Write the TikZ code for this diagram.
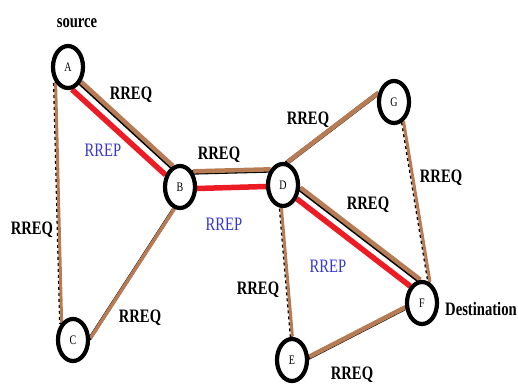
\documentclass[tikz,border=0pt]{standalone}
\usepackage{fontspec}
\setmainfont{Liberation Serif}
\newfontfamily\narrow[FakeStretch=0.77]{Liberation Serif}
\usetikzlibrary{shapes.geometric, backgrounds}

\definecolor{wire}{RGB}{184,124,84}
\definecolor{reply}{RGB}{237,28,36}
\definecolor{replytext}{RGB}{55,55,205}

\tikzset{
	host/.style={ellipse, draw=black, line width=4.2pt, fill=white, minimum width=30pt, minimum height=42pt, inner sep=0pt, font=\narrow\fontsize{13}{13}\selectfont},
	req/.style={font=\narrow\bfseries\fontsize{19}{19}\selectfont},
	rep/.style={text=replytext, font=\narrow\fontsize{19}{19}\selectfont},
	replink/.style={reply, line width=5.5pt}
}

\begin{document}
\begin{tikzpicture}[x=1pt, y=-1pt]
				\useasboundingbox (0,0) rectangle (518,385);
				
				\node[host] (A) at (68,67) {A};
				\node[host] (B) at (180,187) {B};
				\node[host] (C) at (73,340) {C};
				\node[host] (D) at (283,185) {D};
				\node[host] (G) at (394,102) {G};
				\node[host] (F) at (422,303) {F};
				\node[host] (E) at (292,360) {E};
				
				\begin{scope}[on background layer]
					% RREQ links
					\foreach \s/\t/\w/\d in {A.-50/B.110/5.5/solid, B.50/D.130/5.5/solid, D.80/G.150/5.5/solid, D.-10/F.95/5.5/solid, E.10/F.195/5.5/solid, C.5/B.-105/4.5/solid, A.-130/C.125/4/dashed, D.-95/E.90/4/dashed, G.-65/F.70/4/dashed}{
						\draw[black, line width=\w pt - 1pt, \d, transform canvas={shift={(-0.7pt,-0.7pt)}}] (\s) -- (\t);
						\draw[wire, line width=\w pt - 1pt, transform canvas={shift={(0.4pt,0.4pt)}}] (\s) -- (\t);
					}
					% RREP path
					\draw[replink] (A.-80) -- (B.140);
					\draw[replink] (B.-5) -- (D.185);
					\draw[replink] (D.-45) -- (F.125);
				\end{scope}
				
				\node[req] (src) at (77,23) {source};
				\node[req, anchor=west, inner sep=0pt] (dst) at (445,309) {Destination};
				
				\node[req] (qAB) at (131,95) {RREQ};
				\node[req] (qBD) at (219,155) {RREQ};
				\node[req] (qDG) at (308,120) {RREQ};
				\node[req] (qGF) at (441,178) {RREQ};
				\node[req] (qDF) at (368,205) {RREQ};
				\node[req] (qDE) at (258,290) {RREQ};
				\node[req] (qCB) at (140,318) {RREQ};
				\node[req] (qAC) at (32,230) {RREQ};
				\node[req, anchor=base] (qEF) at (352,379) {RREQ};
				
				\node[rep] (pAB) at (103,150) {RREP};
				\node[rep] (pBD) at (224,224) {RREP};
				\node[rep] (pDF) at (328,266) {RREP};
\end{tikzpicture}
\end{document}
